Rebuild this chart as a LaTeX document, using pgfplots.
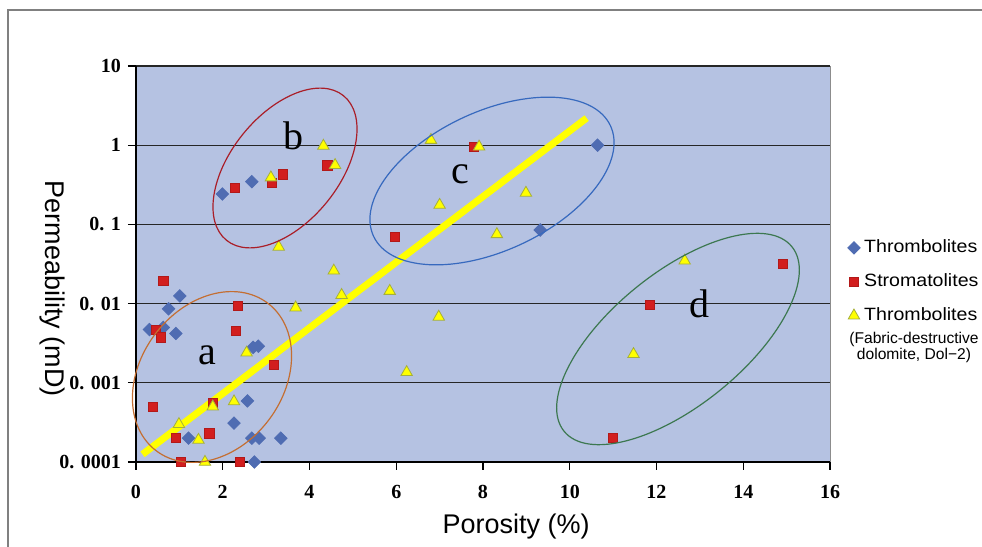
\documentclass[border=0pt]{standalone}
\usepackage{fontspec}
\setmainfont{Liberation Sans}
\newfontfamily\tickfont{Liberation Serif}
\newfontfamily\letterfont{Liberation Serif}
\newfontfamily\legfont[FakeStretch=1.1]{Liberation Sans}
\usepackage{pgfplots}
\pgfplotsset{compat=1.18}

\definecolor{plotbg}{RGB}{181,194,226}
\definecolor{thrblue}{RGB}{79,108,178}
\definecolor{strred}{RGB}{210,30,30}
\definecolor{dolyel}{RGB}{255,255,0}
\definecolor{doledge}{RGB}{165,175,60}
\definecolor{ella}{RGB}{196,110,50}
\definecolor{ellb}{RGB}{170,30,40}
\definecolor{ellc}{RGB}{55,105,190}
\definecolor{elld}{RGB}{60,120,80}

\begin{document}
\begin{tikzpicture}
\useasboundingbox (0,0) rectangle (491pt,273.5pt);
\clip (0,0) rectangle (491pt,273.5pt);
% outer chart frame
\draw[black!50, line width=1pt] (4pt,-10pt) -- (4pt,268.5pt) -- (500pt,268.5pt);

\begin{axis}[
    at={(68pt,42.5pt)}, anchor=south west,
    width=347pt, height=198pt, scale only axis,
    xmin=0, xmax=16,
    ymode=log, ymin=1e-4, ymax=10,
    clip=false,
    axis background/.style={fill=plotbg, draw=black!45},
    axis lines=left,
    axis line style={black, line width=0.7pt, -},
    tick align=outside,
    major tick length=4pt,
    tick style={black, line width=0.6pt},
    yminorticks=false,
    xtick={0,2,4,6,8,10,12,14,16},
    xticklabels={0,2,4,6,8,10,12,14,16},
    ytick={1e-4,1e-3,1e-2,1e-1,1,10},
    yticklabels={0. 0001,0. 001,0. 01,0. 1,1,10},
    ticklabel style={font=\tickfont\bfseries\fontsize{10}{12}\selectfont},
    xticklabel style={yshift=-4pt},
    ymajorgrids,
    grid style={black!85, line width=0.6pt},
    xlabel={Porosity (\%)},
    ylabel={Permeability (mD)},
    label style={font=\fontsize{13.5}{16}\selectfont},
    xlabel style={at={(axis description cs:0.5476,-0.164)}, anchor=center},
    ylabel style={at={(axis description cs:-0.121,0.438)}, anchor=center, rotate=180},
    legend style={at={(axis description cs:1.025,0.572)}, anchor=north west,
        draw=none, fill=none, inner sep=0pt, row sep=5pt,
        font=\legfont\fontsize{8.9}{11}\selectfont},
    legend cell align=left,
]
% Thrombolites
\addplot[only marks, mark=square*, mark size=2.2pt,
    mark options={rotate=45, fill=thrblue, draw=thrblue}] table {
x y
1.01 0.0125
0.75 0.0086
0.31 0.0047
0.63 0.0050
0.92 0.0042
2.70 0.0028
2.82 0.0029
2.57 0.00059
2.26 0.00031
1.21 0.0002
2.67 0.0002
2.84 0.0002
3.34 0.0002
2.73 0.0001
1.99 0.242
2.67 0.346
10.64 1.0
9.32 0.085
};
\addlegendentry{Thrombolites}
% Stromatolites
\addplot[only marks, mark=square*, mark size=2.3pt,
    mark options={fill=strred, draw=strred!85!black, line width=0.3pt}] table {
x y
0.63 0.0195
2.34 0.0094
0.46 0.0047
0.58 0.00375
2.31 0.0045
3.17 0.0017
0.38 0.0005
1.77 0.00056
0.92 0.0002
1.69 0.00023
1.03 0.0001
2.40 0.0001
2.27 0.288
3.13 0.337
3.39 0.43
4.41 0.557
5.97 0.070
7.79 0.957
14.92 0.0316
11.84 0.0096
10.99 0.0002
};
\addlegendentry{Stromatolites}
% Thrombolites, Dol-2
\addplot[only marks, mark=triangle*, mark size=3.3pt,
    mark options={fill=dolyel, draw=doledge, line width=0.4pt}] table {
x y
4.32 0.98
4.59 0.56
3.11 0.39
3.29 0.052
3.68 0.0089
2.55 0.0024
2.26 0.00058
1.77 0.0005
0.99 0.0003
1.44 0.00019
1.59 0.0001
6.80 1.16
7.91 0.957
7.00 0.176
8.99 0.25
8.32 0.075
4.56 0.026
4.74 0.0128
5.85 0.0144
6.98 0.0068
6.24 0.00136
12.65 0.0348
11.47 0.0023
};
\addlegendentry{Thrombolites}
% trend line
\addplot[dolyel, line width=3.5pt, forget plot] coordinates {(0.15,0.000125) (10.39,2.2)};
\end{axis}

\begin{scope}[x=0.5pt, y=0.5pt]
\draw[ella, line width=0.6pt, rotate around={53:(212,170)}] (212,170) ellipse [x radius=92.5, y radius=71.2];
\draw[ellb, line width=0.6pt, rotate around={51:(285,379)}] (285,379) ellipse [x radius=93, y radius=54];
\draw[ellc, line width=0.6pt, rotate around={25:(492,366)}] (492,366) ellipse [x radius=130.7, y radius=69.6];
\draw[elld, line width=0.6pt, rotate around={39:(678,208)}] (678,208) ellipse [x radius=146.6, y radius=66.3];
\node[font=\letterfont\fontsize{20}{24}\selectfont] at (207,192) {a};
\node[font=\letterfont\fontsize{20}{24}\selectfont] at (293,411) {b};
\node[font=\letterfont\fontsize{20}{24}\selectfont] at (460,373) {c};
\node[font=\letterfont\fontsize{20}{24}\selectfont] at (699,243) {d};
\node[align=center, inner sep=0pt, font=\fontsize{7.8}{8}\selectfont] at (914,200)
    {(Fabric-destructive\\dolomite, Dol−2)};
\end{scope}
\end{tikzpicture}
\end{document}
